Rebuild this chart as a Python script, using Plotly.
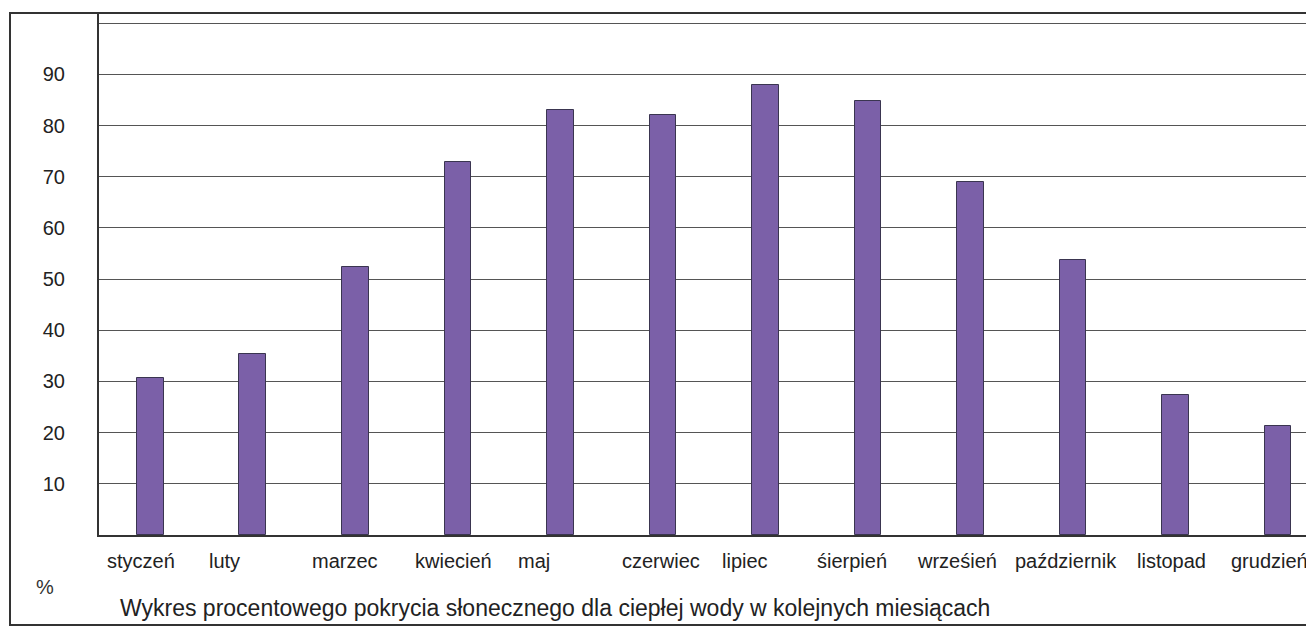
import plotly.graph_objects as go

months = ["styczeń", "luty", "marzec", "kwiecień", "maj", "czerwiec", "lipiec",
          "śierpień", "wrześień", "październik", "listopad", "grudzień"]
coverage = [30.7, 35.4, 52.4, 72.8, 83.0, 82.0, 87.9, 84.9, 69.0, 53.8, 27.4, 21.3]
y_ticks = [10, 20, 30, 40, 50, 60, 70, 80, 90, 100]
y_tick_text = ["10", "20", "30", "40", "50", "60", "70", "80", "90", ""]
# label centre offsets (in category units) relative to bar positions, as in the scan
label_offsets = [-0.09, -0.28, -0.10, -0.04, -0.26, -0.02, -0.20, -0.16, -0.13, -0.07, -0.04, -0.08]

OFF = 8  # default page body margin
W, H = 1314 - OFF, 640 - OFF
L = 99 - OFF
T = 13 - OFF
B = H - (535 - OFF)
R = 0
pw = W - L - R
ph = H - T - B

fig = go.Figure()
fig.add_trace(go.Bar(
    x=list(range(len(months))), y=coverage, width=0.26,
    marker=dict(color="#7b60a8", line=dict(color="#3a3550", width=1)),
))

font_family = "Liberation Sans, Arial, sans-serif"
annotations = []
for i, (m, off) in enumerate(zip(months, label_offsets)):
    annotations.append(dict(x=i + off, y=(535 - 561) / ph, xref="x", yref="paper", text=m,
                            showarrow=False, xanchor="center", yanchor="middle",
                            font=dict(size=20, color="#222", family=font_family)))
annotations.append(dict(x=(45 - 99) / pw, y=(535 - 587) / ph, xref="paper", yref="paper",
                        text="%", showarrow=False, xanchor="center", yanchor="middle",
                        font=dict(size=20, color="#333", family=font_family)))
annotations.append(dict(x=(118 - 99) / pw, y=(535 - 608) / ph, xref="paper", yref="paper",
                        text="Wykres procentowego pokrycia słonecznego dla ciepłej wody w kolejnych miesiącach",
                        showarrow=False, xanchor="left", yanchor="middle",
                        font=dict(size=23, color="#222", family=font_family)))

fig.update_layout(
    width=W, height=H,
    margin=dict(l=L, r=R, t=T, b=B),
    paper_bgcolor="white", plot_bgcolor="white",
    showlegend=False, bargap=0,
    font=dict(family=font_family),
    xaxis=dict(range=[-0.5, 11.35], showticklabels=False, ticks="", showgrid=False,
               showline=True, linecolor="#333", linewidth=2, zeroline=False),
    yaxis=dict(range=[0, 102], tickvals=y_ticks, ticktext=y_tick_text,
               showgrid=True, gridcolor="#555", gridwidth=1,
               showline=True, linecolor="#333", linewidth=2, zeroline=False,
               ticks="", ticklabelstandoff=28,
               tickfont=dict(size=20, color="#222", family=font_family)),
    annotations=annotations,
    shapes=[dict(type="rect", xref="paper", yref="paper",
                 x0=(10 - 99) / pw, x1=1.02, y0=(535 - 625) / ph, y1=(535 - 13) / ph,
                 line=dict(color="#333", width=2), fillcolor="rgba(0,0,0,0)", layer="above")],
)

fig.write_html("out.html")
